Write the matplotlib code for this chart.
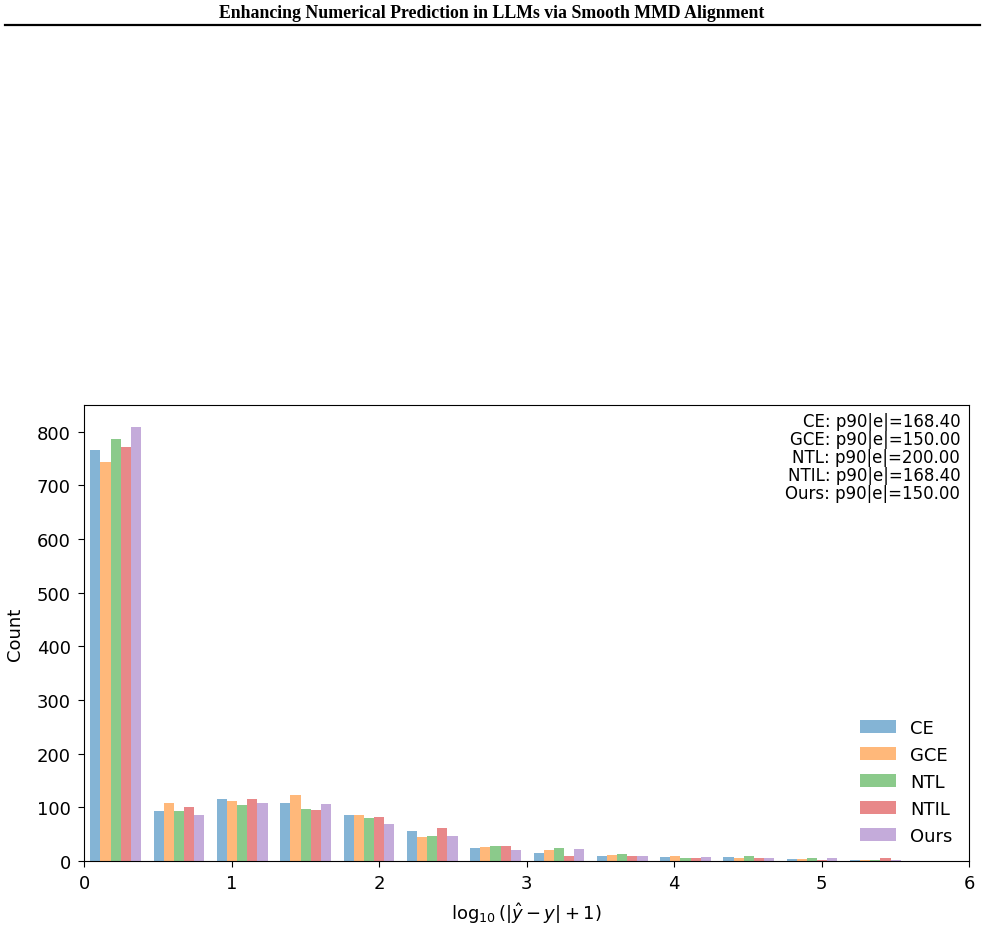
import numpy as np
import matplotlib
matplotlib.use("Agg")
import matplotlib.pyplot as plt

# ---- data ----
series = ["CE", "GCE", "NTL", "NTIL", "Ours"]
p90 = [168.40, 150.00, 200.00, 168.40, 150.00]
x_max = 5.58
n_bins = 13
counts_CE   = [766, 94, 116, 108, 86, 56, 25, 15, 10, 8, 8, 4, 2]
counts_GCE  = [744, 108, 112, 123, 86, 45, 27, 21, 12, 10, 6, 4, 2]
counts_NTL  = [787, 94, 105, 97, 81, 47, 28, 25, 14, 6, 10, 6, 2]
counts_NTIL = [772, 101, 116, 95, 82, 62, 28, 10, 10, 6, 6, 2, 6]
counts_Ours = [809, 86, 108, 107, 69, 47, 21, 23, 10, 8, 6, 6, 2]
all_counts = [counts_CE, counts_GCE, counts_NTL, counts_NTIL, counts_Ours]
colors = ["tab:blue", "tab:orange", "tab:green", "tab:red", "tab:purple"]

edges = np.linspace(0, x_max, n_bins + 1)
centers = (edges[:-1] + edges[1:]) / 2

fig = plt.figure(figsize=(9.85, 9.45), dpi=100)

# page header
fig.text(0.4995, 0.981, "Enhancing Numerical Prediction in LLMs via Smooth MMD Alignment",
         ha="center", va="baseline", family="Liberation Serif", weight="bold", fontsize=12.8)
fig.add_artist(plt.Line2D([0.005, 0.995], [0.9728, 0.9728], color="black", lw=1.6,
                          transform=fig.transFigure))

ax = fig.add_axes([0.0853, 0.0878, 0.8985, 0.4826])
ax.hist([centers] * len(series), bins=edges, weights=all_counts,
        color=colors, alpha=0.55, label=series)
ax.set_xlim(0, 6)
ax.set_ylim(0, 850)
ax.set_xticks(range(0, 7))
ax.set_yticks(range(0, 801, 100))
ax.tick_params(labelsize=13, length=4.5, pad=5)
ax.set_xlabel(r"$\log_{10}(|\hat{y}-y|+1)$", fontsize=13, labelpad=6)
ax.set_ylabel("Count", fontsize=13, labelpad=9)

txt = "\n".join(f"{s}: p90|e|={v:.2f}" for s, v in zip(series, p90))
ax.text(0.99, 0.985, txt, transform=ax.transAxes, ha="right", va="top",
        fontsize=12, linespacing=1.0)

ax.legend(loc="lower right", frameon=False, fontsize=13)

fig.savefig("out.png", dpi=100)
